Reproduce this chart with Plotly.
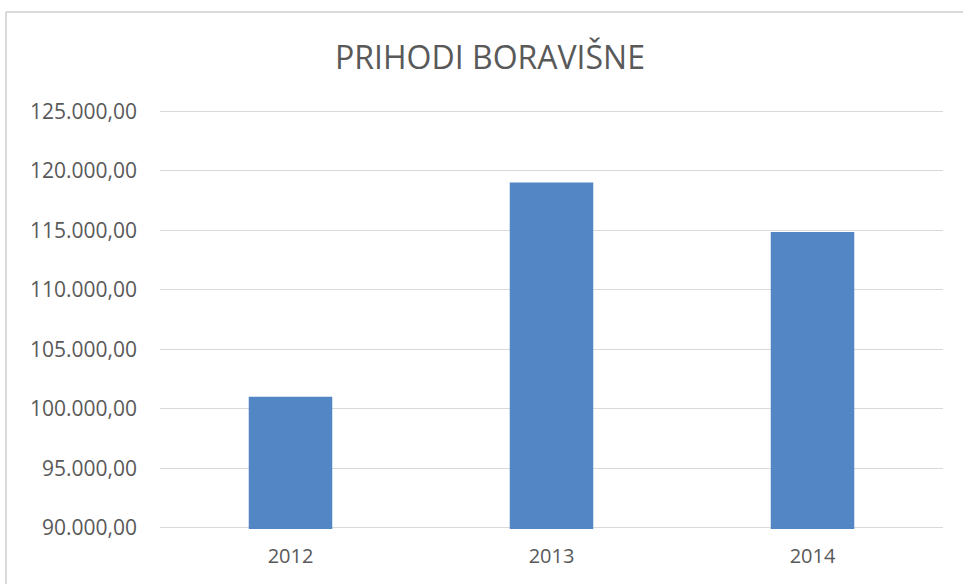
import plotly.graph_objects as go

years = ["2012", "2013", "2014"]
prihodi = [101000, 119000, 114850]

fig = go.Figure(go.Bar(x=years, y=prihodi, marker=dict(color="#5286C4", line=dict(width=0)), width=0.32))

fig.update_layout(
    width=963, height=584,
    margin=dict(l=160, r=20, t=110, b=55),
    paper_bgcolor="white", plot_bgcolor="white",
    separators=",.",
    title=dict(text="PRIHODI BORAVIŠNE", x=490/963, xanchor="center", y=1-58/584, yanchor="middle",
               font=dict(family="Open Sans", size=32, color="#595959")),
    font=dict(family="Open Sans", color="#595959"),
    showlegend=False,
    xaxis=dict(showgrid=False, showline=False, ticks="", tickfont=dict(size=20, color="#595959"),
               ticklabelstandoff=13),
    yaxis=dict(range=[89900, 125100], dtick=5000, tick0=90000, tickformat=",.2f",
               showgrid=True, gridcolor="#d9d9d9", gridwidth=1, zeroline=False, showline=False,
               tickfont=dict(size=21, color="#595959"), ticklabelstandoff=22),
    shapes=[
        dict(type="line", xref="paper", yref="paper", x0=(6-160)/783, x1=(6-160)/783, y0=-0.2, y1=1+(110-12)/419,
             line=dict(color="#d9d9d9", width=2)),
        dict(type="line", xref="paper", yref="paper", x0=(6-160)/783, x1=1.1, y0=1+(110-12)/419, y1=1+(110-12)/419,
             line=dict(color="#d9d9d9", width=2)),
    ],
)

fig.write_html("out.html", config={"displayModeBar": False},
               post_script="document.body.style.margin='0';document.body.style.overflow='hidden';")
